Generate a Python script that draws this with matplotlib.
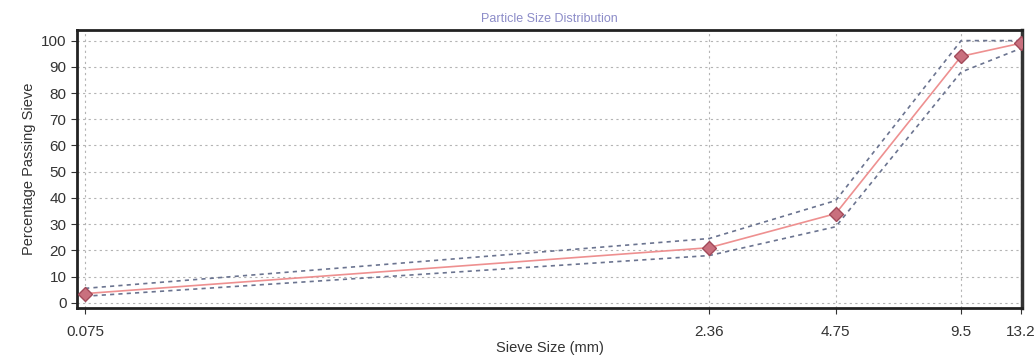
#
# 粒度分布曲線 (Particle Size Distribution)
#
import matplotlib
matplotlib.use('Agg')
import matplotlib.pyplot as plt
from matplotlib.ticker import FixedLocator, NullLocator

matplotlib.rc('font', **{'family': 'Liberation Sans'})

#
# データ
#
sieve_size = [0.075, 2.36, 4.75, 9.5, 13.2]
passing = [3.5, 21, 34, 94, 99]
upper_limit = [5.5, 24.5, 39, 100, 100]
lower_limit = [2.5, 18, 29, 88, 97]
x_labels = ['0.075', '2.36', '4.75', '9.5', '13.2']
y_ticks = [0, 10, 20, 30, 40, 50, 60, 70, 80, 90, 100]

fig = plt.figure(figsize=(10.36, 3.63), dpi=100)
ax = fig.add_axes([0.0743, 0.1515, 0.9122, 0.7655])

#
# 上限・下限 (点線) と 通過率 (実線 + ひし形)
#
ax.plot(sieve_size, upper_limit, color='#6b7490', linestyle=(0, (2.5, 2.5)), lw=1.2, zorder=3)
ax.plot(sieve_size, lower_limit, color='#6b7490', linestyle=(0, (2.5, 2.5)), lw=1.2, zorder=3)
ax.plot(sieve_size, passing, color='#ee9090', lw=1.2, zorder=4,
        marker='D', markersize=7.5, markerfacecolor='#c9707e', markeredgecolor='#a24a5a')

#
# 軸の設定
#
ax.set_xscale('log')
ax.set_xlim(0.0717, 13.3)
ax.set_ylim(-2, 104)
ax.xaxis.set_major_locator(FixedLocator(sieve_size))
ax.xaxis.set_minor_locator(NullLocator())
ax.set_xticklabels(x_labels)
ax.set_yticks(y_ticks)
ax.tick_params(axis='both', labelsize=11, colors='#333333', length=4, width=0.8)
ax.tick_params(axis='x', pad=8)

ax.grid(True, color='#b4b4b4', linestyle=(0, (2, 3)), lw=0.8)

for side in ['left', 'bottom', 'top']:
    ax.spines[side].set_linewidth(2.0)
    ax.spines[side].set_color('#222222')
ax.spines['right'].set_linestyle((0, (1, 1)))
ax.spines['right'].set_linewidth(2.5)
ax.spines['right'].set_color('#333333')

#
# タイトル、軸ラベル
#
ax.set_title('Particle Size Distribution', fontsize=9, color='#8c8cc8', pad=6)
ax.set_xlabel('Sieve Size (mm)', fontsize=10.5, color='#333333', labelpad=2)
ax.set_ylabel('Percentage Passing Sieve', fontsize=10.5, color='#333333', labelpad=4)

fig.savefig('out.png', dpi=100)
